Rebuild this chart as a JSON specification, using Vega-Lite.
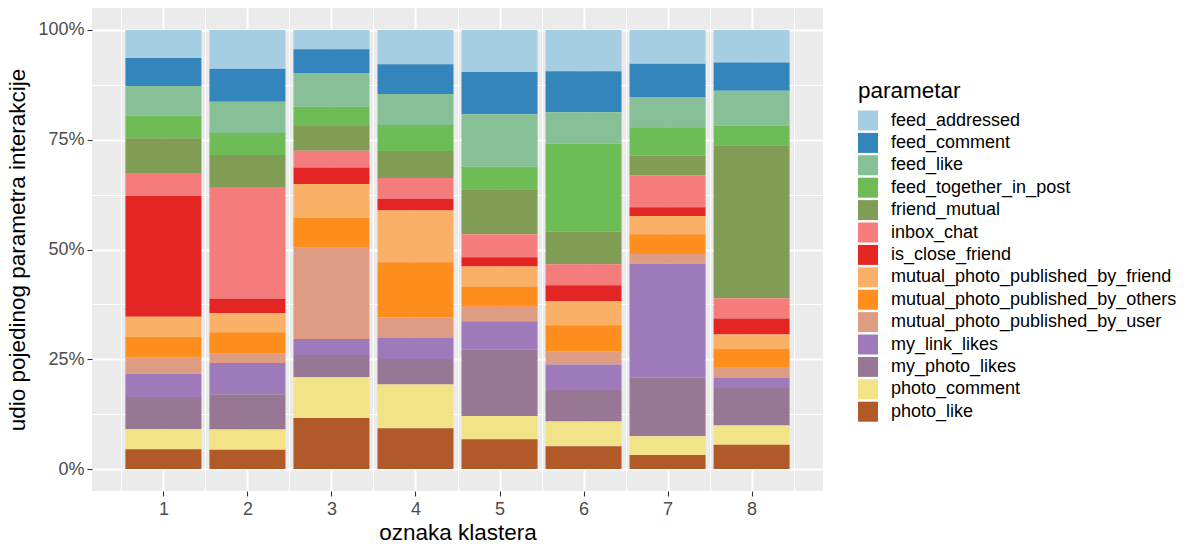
{
  "$schema": "https://vega.github.io/schema/vega-lite/v6.json",
  "autosize": {"type": "none"},
  "padding": {"left": 92, "top": 8, "right": 370, "bottom": 55},
  "width": 731,
  "height": 483,
  "background": "white",
  "config": {
    "font": "Liberation Sans",
    "view": {"fill": "#EBEBEB", "stroke": null},
    "axis": {
      "domain": false,
      "gridColor": "white",
      "tickColor": "#333333",
      "tickWidth": 1.1,
      "tickSize": 5,
      "labelColor": "#4D4D4D",
      "labelFontSize": 18,
      "titleFontSize": 22.5,
      "titleFontWeight": "normal",
      "titleColor": "black"
    }
  },
  "data": {
    "values": [
      {"klaster": 1, "parametar": "feed_addressed", "udio": 6.4},
      {"klaster": 1, "parametar": "feed_comment", "udio": 6.4},
      {"klaster": 1, "parametar": "feed_like", "udio": 6.7},
      {"klaster": 1, "parametar": "feed_together_in_post", "udio": 5.2},
      {"klaster": 1, "parametar": "friend_mutual", "udio": 7.9},
      {"klaster": 1, "parametar": "inbox_chat", "udio": 5.2},
      {"klaster": 1, "parametar": "is_close_friend", "udio": 27.6},
      {"klaster": 1, "parametar": "mutual_photo_published_by_friend", "udio": 4.6},
      {"klaster": 1, "parametar": "mutual_photo_published_by_others", "udio": 4.7},
      {"klaster": 1, "parametar": "mutual_photo_published_by_user", "udio": 3.7},
      {"klaster": 1, "parametar": "my_link_likes", "udio": 5.3},
      {"klaster": 1, "parametar": "my_photo_likes", "udio": 7.3},
      {"klaster": 1, "parametar": "photo_comment", "udio": 4.6},
      {"klaster": 1, "parametar": "photo_like", "udio": 4.5},
      {"klaster": 2, "parametar": "feed_addressed", "udio": 8.8},
      {"klaster": 2, "parametar": "feed_comment", "udio": 7.5},
      {"klaster": 2, "parametar": "feed_like", "udio": 7.1},
      {"klaster": 2, "parametar": "feed_together_in_post", "udio": 5.0},
      {"klaster": 2, "parametar": "friend_mutual", "udio": 7.3},
      {"klaster": 2, "parametar": "inbox_chat", "udio": 25.4},
      {"klaster": 2, "parametar": "is_close_friend", "udio": 3.3},
      {"klaster": 2, "parametar": "mutual_photo_published_by_friend", "udio": 4.3},
      {"klaster": 2, "parametar": "mutual_photo_published_by_others", "udio": 4.9},
      {"klaster": 2, "parametar": "mutual_photo_published_by_user", "udio": 2.1},
      {"klaster": 2, "parametar": "my_link_likes", "udio": 7.1},
      {"klaster": 2, "parametar": "my_photo_likes", "udio": 8.0},
      {"klaster": 2, "parametar": "photo_comment", "udio": 4.6},
      {"klaster": 2, "parametar": "photo_like", "udio": 4.4},
      {"klaster": 3, "parametar": "feed_addressed", "udio": 4.4},
      {"klaster": 3, "parametar": "feed_comment", "udio": 5.4},
      {"klaster": 3, "parametar": "feed_like", "udio": 7.7},
      {"klaster": 3, "parametar": "feed_together_in_post", "udio": 4.4},
      {"klaster": 3, "parametar": "friend_mutual", "udio": 5.6},
      {"klaster": 3, "parametar": "inbox_chat", "udio": 3.8},
      {"klaster": 3, "parametar": "is_close_friend", "udio": 3.8},
      {"klaster": 3, "parametar": "mutual_photo_published_by_friend", "udio": 7.7},
      {"klaster": 3, "parametar": "mutual_photo_published_by_others", "udio": 6.8},
      {"klaster": 3, "parametar": "mutual_photo_published_by_user", "udio": 20.8},
      {"klaster": 3, "parametar": "my_link_likes", "udio": 3.6},
      {"klaster": 3, "parametar": "my_photo_likes", "udio": 5.1},
      {"klaster": 3, "parametar": "photo_comment", "udio": 9.3},
      {"klaster": 3, "parametar": "photo_like", "udio": 11.6},
      {"klaster": 4, "parametar": "feed_addressed", "udio": 7.8},
      {"klaster": 4, "parametar": "feed_comment", "udio": 6.8},
      {"klaster": 4, "parametar": "feed_like", "udio": 7.1},
      {"klaster": 4, "parametar": "feed_together_in_post", "udio": 5.9},
      {"klaster": 4, "parametar": "friend_mutual", "udio": 6.2},
      {"klaster": 4, "parametar": "inbox_chat", "udio": 4.7},
      {"klaster": 4, "parametar": "is_close_friend", "udio": 2.7},
      {"klaster": 4, "parametar": "mutual_photo_published_by_friend", "udio": 11.8},
      {"klaster": 4, "parametar": "mutual_photo_published_by_others", "udio": 12.6},
      {"klaster": 4, "parametar": "mutual_photo_published_by_user", "udio": 4.6},
      {"klaster": 4, "parametar": "my_link_likes", "udio": 4.9},
      {"klaster": 4, "parametar": "my_photo_likes", "udio": 5.8},
      {"klaster": 4, "parametar": "photo_comment", "udio": 10.0},
      {"klaster": 4, "parametar": "photo_like", "udio": 9.3},
      {"klaster": 5, "parametar": "feed_addressed", "udio": 9.6},
      {"klaster": 5, "parametar": "feed_comment", "udio": 9.6},
      {"klaster": 5, "parametar": "feed_like", "udio": 12.0},
      {"klaster": 5, "parametar": "feed_together_in_post", "udio": 5.1},
      {"klaster": 5, "parametar": "friend_mutual", "udio": 10.3},
      {"klaster": 5, "parametar": "inbox_chat", "udio": 5.2},
      {"klaster": 5, "parametar": "is_close_friend", "udio": 2.1},
      {"klaster": 5, "parametar": "mutual_photo_published_by_friend", "udio": 4.6},
      {"klaster": 5, "parametar": "mutual_photo_published_by_others", "udio": 4.6},
      {"klaster": 5, "parametar": "mutual_photo_published_by_user", "udio": 3.3},
      {"klaster": 5, "parametar": "my_link_likes", "udio": 6.5},
      {"klaster": 5, "parametar": "my_photo_likes", "udio": 15.1},
      {"klaster": 5, "parametar": "photo_comment", "udio": 5.3},
      {"klaster": 5, "parametar": "photo_like", "udio": 6.8},
      {"klaster": 6, "parametar": "feed_addressed", "udio": 9.4},
      {"klaster": 6, "parametar": "feed_comment", "udio": 9.3},
      {"klaster": 6, "parametar": "feed_like", "udio": 7.2},
      {"klaster": 6, "parametar": "feed_together_in_post", "udio": 20.0},
      {"klaster": 6, "parametar": "friend_mutual", "udio": 7.4},
      {"klaster": 6, "parametar": "inbox_chat", "udio": 4.8},
      {"klaster": 6, "parametar": "is_close_friend", "udio": 3.6},
      {"klaster": 6, "parametar": "mutual_photo_published_by_friend", "udio": 5.5},
      {"klaster": 6, "parametar": "mutual_photo_published_by_others", "udio": 5.9},
      {"klaster": 6, "parametar": "mutual_photo_published_by_user", "udio": 3.0},
      {"klaster": 6, "parametar": "my_link_likes", "udio": 5.8},
      {"klaster": 6, "parametar": "my_photo_likes", "udio": 7.2},
      {"klaster": 6, "parametar": "photo_comment", "udio": 5.6},
      {"klaster": 6, "parametar": "photo_like", "udio": 5.2},
      {"klaster": 7, "parametar": "feed_addressed", "udio": 7.7},
      {"klaster": 7, "parametar": "feed_comment", "udio": 7.6},
      {"klaster": 7, "parametar": "feed_like", "udio": 6.9},
      {"klaster": 7, "parametar": "feed_together_in_post", "udio": 6.4},
      {"klaster": 7, "parametar": "friend_mutual", "udio": 4.6},
      {"klaster": 7, "parametar": "inbox_chat", "udio": 7.2},
      {"klaster": 7, "parametar": "is_close_friend", "udio": 2.0},
      {"klaster": 7, "parametar": "mutual_photo_published_by_friend", "udio": 4.2},
      {"klaster": 7, "parametar": "mutual_photo_published_by_others", "udio": 4.5},
      {"klaster": 7, "parametar": "mutual_photo_published_by_user", "udio": 2.2},
      {"klaster": 7, "parametar": "my_link_likes", "udio": 26.0},
      {"klaster": 7, "parametar": "my_photo_likes", "udio": 13.3},
      {"klaster": 7, "parametar": "photo_comment", "udio": 4.3},
      {"klaster": 7, "parametar": "photo_like", "udio": 3.2},
      {"klaster": 8, "parametar": "feed_addressed", "udio": 7.4},
      {"klaster": 8, "parametar": "feed_comment", "udio": 6.4},
      {"klaster": 8, "parametar": "feed_like", "udio": 8.0},
      {"klaster": 8, "parametar": "feed_together_in_post", "udio": 4.4},
      {"klaster": 8, "parametar": "friend_mutual", "udio": 34.8},
      {"klaster": 8, "parametar": "inbox_chat", "udio": 4.6},
      {"klaster": 8, "parametar": "is_close_friend", "udio": 3.6},
      {"klaster": 8, "parametar": "mutual_photo_published_by_friend", "udio": 3.3},
      {"klaster": 8, "parametar": "mutual_photo_published_by_others", "udio": 4.3},
      {"klaster": 8, "parametar": "mutual_photo_published_by_user", "udio": 2.3},
      {"klaster": 8, "parametar": "my_link_likes", "udio": 2.3},
      {"klaster": 8, "parametar": "my_photo_likes", "udio": 8.5},
      {"klaster": 8, "parametar": "photo_comment", "udio": 4.4},
      {"klaster": 8, "parametar": "photo_like", "udio": 5.5}
    ]
  },
  "layer": [
    {
      "mark": {"type": "bar", "opacity": 0},
      "encoding": {
        "x": {
          "field": "klaster", "type": "quantitative",
          "scale": {"domain": [0.15, 8.85], "nice": false, "zero": false, "padding": 0},
          "axis": {"orient": "bottom", "values": [0.5, 1.5, 2.5, 3.5, 4.5, 5.5, 6.5, 7.5, 8.5], "labels": false, "ticks": false, "title": null, "grid": true, "gridWidth": 1}
        },
        "y": {
          "field": "udio", "type": "quantitative", "stack": "normalize",
          "scale": {"domain": [-0.05, 1.05], "nice": false, "zero": false, "padding": 0},
          "axis": {"orient": "left", "values": [0.125, 0.375, 0.625, 0.875], "labels": false, "ticks": false, "title": null, "grid": true, "gridWidth": 1}
        },
        "order": {"field": "parametar", "sort": "descending"}
      }
    },
    {
      "mark": {"type": "bar", "size": 76},
      "encoding": {
        "x": {
          "field": "klaster", "type": "quantitative",
          "title": "oznaka klastera",
          "axis": {"orient": "bottom", "values": [1, 2, 3, 4, 5, 6, 7, 8], "format": "d", "grid": true, "gridWidth": 2, "labelPadding": 4, "titlePadding": 3}
        },
        "y": {
          "field": "udio", "type": "quantitative", "stack": "normalize",
          "title": "udio pojedinog parametra interakcije",
          "axis": {"orient": "left", "values": [0, 0.25, 0.5, 0.75, 1], "format": ".0%", "grid": true, "gridWidth": 2, "labelPadding": 3, "titlePadding": 8}
        },
        "color": {
          "field": "parametar", "type": "nominal",
          "scale": {
            "domain": ["feed_addressed", "feed_comment", "feed_like", "feed_together_in_post", "friend_mutual", "inbox_chat", "is_close_friend", "mutual_photo_published_by_friend", "mutual_photo_published_by_others", "mutual_photo_published_by_user", "my_link_likes", "my_photo_likes", "photo_comment", "photo_like"],
            "range": ["#A6CEE3", "#3385BC", "#87BF96", "#6DBC55", "#819C55", "#F47C7C", "#E32623", "#FBB068", "#FE8E1D", "#DE9D83", "#9E7ABA", "#977794", "#F2E388", "#B15928"]
          },
          "legend": {
            "orient": "none",
            "legendX": 766,
            "legendY": 72,
            "title": "parametar",
            "titleFontSize": 22.5,
            "titleFontWeight": "normal",
            "titleColor": "black",
            "titlePadding": 8,
            "labelFontSize": 18,
            "labelColor": "black",
            "labelLimit": 400,
            "labelOffset": 13,
            "symbolType": "square",
            "symbolSize": 400,
            "symbolStrokeWidth": 0,
            "symbolOpacity": 1,
            "rowPadding": 2.4
          }
        },
        "order": {"field": "parametar", "sort": "descending"}
      }
    }
  ],
  "resolve": {"axis": {"x": "independent", "y": "independent"}}
}
